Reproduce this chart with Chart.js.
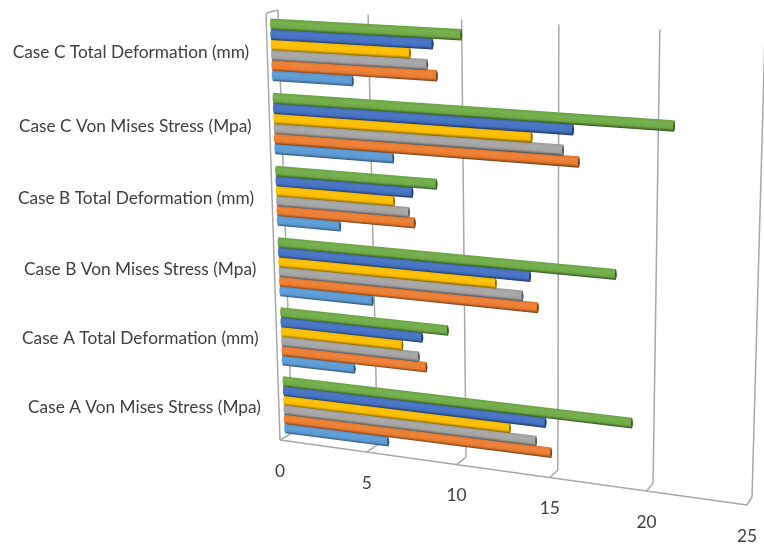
<!DOCTYPE html>
<html>
<head>
<meta charset="utf-8">
<title>Case comparison</title>
<script src="https://cdn.jsdelivr.net/npm/chart.js@4"></script>
<style>
  html, body { margin: 0; padding: 0; background: #fff; }
  canvas { display: block; }
</style>
</head>
<body>
<canvas id="caseChart" width="764" height="546"></canvas>
<script>
  // Categories run from the top row to the bottom row
  const categories = [
    'Case C Total Deformation (mm)',
    'Case C Von Mises Stress (Mpa)',
    'Case B Total Deformation (mm)',
    'Case B Von Mises Stress (Mpa)',
    'Case A Total Deformation (mm)',
    'Case A Von Mises Stress (Mpa)'
  ];

  const greenValues = [10.2, 20.9, 8.8, 18.1, 9.3, 19.0];
  const blueValues = [8.7, 15.9, 7.5, 13.7, 7.9, 14.5];
  const yellowValues = [7.5, 13.8, 6.5, 11.9, 6.8, 12.6];
  const grayValues = [8.4, 15.4, 7.3, 13.3, 7.7, 14.0];
  const orangeValues = [8.9, 16.2, 7.6, 14.1, 8.1, 14.8];
  const lightBlueValues = [4.4, 6.5, 3.5, 5.2, 4.1, 5.9];

  const seriesValues = [greenValues, blueValues, yellowValues, grayValues, orangeValues, lightBlueValues];
  const seriesColors = ['#70AD47', '#4472C4', '#FFC000', '#A5A5A5', '#ED7D31', '#5B9BD5'];

  const axisMax = 25;
  const axisStep = 5;

  // Corners of each plane on the page: top left, top right, bottom right, bottom left
  const backWall = [[278, 10], [765, 35], [752, 497], [292, 433]];
  const frontWall = [[266, 13], [760, 38], [747, 505], [280, 440]];
  const barPlane = [[270.5, 13], [762, 39.5], [749.5, 499.5], [285.5, 439]];

  // Projective map from the unit square onto a four sided shape
  function makeProjection(quad) {
    const [[x0, y0], [x1, y1], [x2, y2], [x3, y3]] = quad;
    const dx1 = x1 - x2, dx2 = x3 - x2, sx = x0 - x1 + x2 - x3;
    const dy1 = y1 - y2, dy2 = y3 - y2, sy = y0 - y1 + y2 - y3;
    const det = dx1 * dy2 - dx2 * dy1;
    const g = (sx * dy2 - dx2 * sy) / det;
    const h = (dx1 * sy - sx * dy1) / det;
    const a = x1 - x0 + g * x1, b = x3 - x0 + h * x3;
    const d = y1 - y0 + g * y1, e = y3 - y0 + h * y3;
    return (u, v) => {
      const w = g * u + h * v + 1;
      return [(a * u + b * v + x0) / w, (d * u + e * v + y0) / w];
    };
  }

  const toBack = makeProjection(backWall);
  const toFront = makeProjection(frontWall);
  const toBars = makeProjection(barPlane);

  // Mix a hex colour towards another one
  function mix(hex, target, amount) {
    const parts = [1, 3, 5].map(i => parseInt(hex.substr(i, 2), 16));
    const other = [1, 3, 5].map(i => parseInt(target.substr(i, 2), 16));
    const out = parts.map((p, i) => Math.round(p + (other[i] - p) * amount));
    return 'rgb(' + out.join(',') + ')';
  }

  function line(ctx, a, b) {
    ctx.beginPath();
    ctx.moveTo(a[0], a[1]);
    ctx.lineTo(b[0], b[1]);
    ctx.stroke();
  }

  // Walls, gridlines and floor, taken from the value scale ticks
  function drawFrame(chart) {
    const ctx = chart.ctx;
    const xScale = chart.scales.x;
    const area = chart.chartArea;
    ctx.save();
    ctx.strokeStyle = '#a8a8a8';
    ctx.lineWidth = 1.5;
    xScale.ticks.forEach(tick => {
      const u = (xScale.getPixelForValue(tick.value) - area.left) / area.width;
      const top = toBack(u, 0), bottom = toBack(u, 1), front = toFront(u, 1);
      line(ctx, top, bottom);
      line(ctx, bottom, front);
    });
    line(ctx, toFront(0, 0), toFront(0, 1));
    line(ctx, toFront(0, 0), toBack(0, 0));
    line(ctx, toFront(0, 1), toFront(1, 1));
    ctx.restore();
  }

  // One rounded bar: shaded across its width, with a darker cap at the value end
  function drawBar(ctx, bar, color, area) {
    // the top edge reaches a little under the bar above so no white seam shows
    const top = (bar.y - bar.height / 2 - 1 - area.top) / area.height;
    const bottom = (bar.y + bar.height / 2 - area.top) / area.height;
    const start = (bar.base - area.left) / area.width;
    const end = (bar.x - area.left) / area.width;
    const tl = toBars(start, top), tr = toBars(end, top);
    const br = toBars(end, bottom), bl = toBars(start, bottom);

    const midTop = [(tl[0] + tr[0]) / 2, (tl[1] + tr[1]) / 2];
    const len = Math.hypot(tr[0] - tl[0], tr[1] - tl[1]);
    const nx = -(tr[1] - tl[1]) / len, ny = (tr[0] - tl[0]) / len;
    const size = Math.hypot(bl[0] - tl[0], bl[1] - tl[1]);
    const shade = ctx.createLinearGradient(midTop[0], midTop[1], midTop[0] + nx * size, midTop[1] + ny * size);
    shade.addColorStop(0, mix(color, '#000000', 0.06));
    shade.addColorStop(0.35, mix(color, '#ffffff', 0.05));
    shade.addColorStop(0.75, mix(color, '#000000', 0.02));
    shade.addColorStop(0.9, mix(color, '#000000', 0.25));
    shade.addColorStop(1, mix(color, '#000000', 0.45));

    const bulge = 2;
    ctx.beginPath();
    ctx.moveTo(tl[0], tl[1]);
    ctx.lineTo(tr[0], tr[1]);
    ctx.quadraticCurveTo((tr[0] + br[0]) / 2 + bulge, (tr[1] + br[1]) / 2, br[0], br[1]);
    ctx.lineTo(bl[0], bl[1]);
    ctx.quadraticCurveTo((tl[0] + bl[0]) / 2 - bulge, (tl[1] + bl[1]) / 2, tl[0], tl[1]);
    ctx.closePath();
    ctx.fillStyle = shade;
    ctx.fill();

    // end cap
    ctx.beginPath();
    ctx.moveTo(tr[0], tr[1]);
    ctx.quadraticCurveTo((tr[0] + br[0]) / 2 + bulge, (tr[1] + br[1]) / 2, br[0], br[1]);
    ctx.quadraticCurveTo((tr[0] + br[0]) / 2 - bulge, (tr[1] + br[1]) / 2, tr[0], tr[1]);
    ctx.closePath();
    ctx.fillStyle = mix(color, '#000000', 0.45);
    ctx.fill();
  }

  function drawLabels(chart) {
    const ctx = chart.ctx;
    const xScale = chart.scales.x;
    const yScale = chart.scales.y;
    const area = chart.chartArea;
    ctx.save();
    ctx.fillStyle = '#404040';
    ctx.font = '17.3px Lato';
    ctx.textBaseline = 'middle';

    ctx.textAlign = 'right';
    yScale.ticks.forEach((tick, i) => {
      const v = (yScale.getPixelForTick(i) - area.top) / area.height;
      const point = toBars(0, v);
      ctx.fillText(categories[i], toFront(0, v)[0] - 18, point[1] + 2);
    });

    ctx.textAlign = 'center';
    xScale.ticks.forEach(tick => {
      const u = (xScale.getPixelForValue(tick.value) - area.left) / area.width;
      const point = toFront(u, 1);
      ctx.fillText(tick.label, point[0], point[1] + 31);
    });
    ctx.restore();
  }

  // The library lays out the bars, this plugin paints them in perspective
  const perspectivePlugin = {
    id: 'perspective',
    beforeDatasetsDraw(chart) {
      const ctx = chart.ctx;
      drawFrame(chart);
      for (let i = seriesValues.length - 1; i >= 0; i--) {
        chart.getDatasetMeta(i).data.forEach(bar => {
          drawBar(ctx, bar.getProps(['x', 'y', 'base', 'height'], true), seriesColors[i], chart.chartArea);
        });
      }
      drawLabels(chart);
      return false;
    }
  };

  new Chart(document.getElementById('caseChart'), {
    type: 'bar',
    data: {
      labels: categories,
      datasets: seriesValues.map((values, i) => ({
        data: values,
        backgroundColor: seriesColors[i],
        categoryPercentage: 0.83,
        barPercentage: 1
      }))
    },
    options: {
      indexAxis: 'y',
      responsive: false,
      animation: false,
      layout: { padding: 0 },
      plugins: {
        legend: { display: false },
        title: { display: false },
        tooltip: { enabled: false }
      },
      scales: {
        x: {
          display: false,
          min: 0,
          max: axisMax,
          ticks: { stepSize: axisStep }
        },
        y: { display: false }
      }
    },
    plugins: [perspectivePlugin]
  });
</script>
</body>
</html>
